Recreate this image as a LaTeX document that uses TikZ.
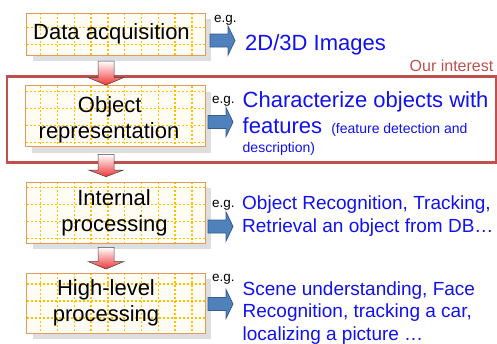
\documentclass[tikz,border=0pt]{standalone}
\usepackage{fontspec}
\setmainfont{Liberation Sans}
\definecolor{boxedge}{HTML}{E39B5B}
\definecolor{boxfill}{HTML}{FFFDF3}
\definecolor{gridyellow}{HTML}{FFC000}
\definecolor{shadowgray}{HTML}{DEDEDE}
\definecolor{focusred}{HTML}{C0504D}
\definecolor{linkblue}{HTML}{1010F0}
\definecolor{stepblue}{HTML}{4F81BD}
\definecolor{stepblueedge}{HTML}{385D8A}
\definecolor{flowred}{HTML}{F03535}
\begin{document}
\begin{tikzpicture}[x=1pt,y=-1pt,
  shadowbox/.style={fill=shadowgray},
  stagebox/.style={fill=boxfill, inner sep=0pt},
  stageedge/.style={draw=boxedge, line width=1.1pt},
  gridline/.style={gridyellow, line width=1.5pt, dash pattern=on 1.5pt off 2.5pt},
  stagetext/.style={font=\fontsize{22}{26}\selectfont, inner sep=0pt, anchor=base},
  egtext/.style={font=\fontsize{13.5}{16}\selectfont, inner sep=0pt, anchor=base west},
  bigblue/.style={font=\fontsize{22}{26}\selectfont, text=linkblue, inner sep=0pt, anchor=base west},
  midblue/.style={font=\fontsize{19}{23}\selectfont, text=linkblue, inner sep=0pt, anchor=base west},
  smallblue/.style={font=\fontsize{14}{17}\selectfont, text=linkblue, inner sep=0pt, anchor=base west},
  flowarrow/.style={draw=gray!50!black, line width=0.5pt, top color=white, bottom color=flowred},
  pointer/.style={fill=stepblue, draw=stepblueedge, line width=0.8pt, line join=miter},
]
\useasboundingbox (0,0) rectangle (497,343);

% frame around the stage of interest
\draw[focusred, line width=2.2pt] (7.3,76.5) rectangle (496,162.5);
\node[font=\fontsize{16}{19}\selectfont, text=focusred, inner sep=0pt, anchor=base east]
  (interest) at (493.5,71) {Our interest};

% stage boxes: name / left / top / right / bottom / first grid row offset
\foreach \n/\l/\t/\r/\b/\o in {s1/27/13.3/205/55/14.4, s2/26/86/205/146.7/5.5,
                                 s3/27/182.3/205/243/5.2, s4/27/273.3/205/333/10.7}{
  \fill[shadowbox] (\l+6,\t+6) rectangle (\r+6,\b+6);
  \node[stagebox, minimum width=\r-\l, minimum height=\b-\t]
    (\n) at ({(\l+\r)/2},{(\t+\b)/2}) {};
  \begin{scope}
    \clip (\n.north west) rectangle (\n.south east);
    \foreach \k in {0,...,9}
      \draw[gridline] (40.7+16.8*\k,\t) -- (40.7+16.8*\k,\b);
    \foreach \k in {0,...,3}
      \draw[gridline] (\l,\t+\o+17*\k) -- (\r,\t+\o+17*\k);
  \end{scope}
  \draw[stageedge] (\n.north west) rectangle (\n.south east);
}

% stage labels
\node[stagetext] (t1)  at (111.5,39.5) {Data acquisition};
\node[stagetext] (t2a) at (109.7,112)  {Object};
\node[stagetext] (t2b) at (109,138)    {representation};
\node[stagetext] (t3a) at (114,205)    {Internal};
\node[stagetext] (t3b) at (114.5,231)  {processing};
\node[stagetext] (t4a) at (106,295.5)  {High-level};
\node[stagetext] (t4b) at (106,321)    {processing};

% downward flow arrows between stages
\foreach \top/\base/\tip in {61/77.7/85, 154.3/170/176.7, 247.3/261.7/269}{
  \path[flowarrow] (98,\top) -- (114,\top) -- (114,\base) -- (123.5,\base)
    -- (106,\tip) -- (88.5,\base) -- (98,\base) -- cycle;
}

% pointers towards the examples
\foreach \x/\c in {210/40.5, 208/122, 208/226.5, 208/304}{
  \path[pointer] (\x,\c-6.5) -- (\x+18,\c-6.5) -- (\x+18,\c-14.5) -- (\x+25,\c)
    -- (\x+18,\c+14.5) -- (\x+18,\c+6.5) -- (\x,\c+6.5) -- cycle;
}

% "e.g." tags
\node[egtext] (eg1) at (214,22.7)  {e.g.};
\node[egtext] (eg2) at (212,103.3) {e.g.};
\node[egtext] (eg3) at (212,207.3) {e.g.};
\node[egtext] (eg4) at (212,281.7) {e.g.};

% examples
\node[bigblue] (x1) at (245,50) {2D/3D Images};
\node[bigblue] (x2a) at (242.5,107.3) {Characterize objects with};
\node[bigblue] (x2b) at (242.5,133.3) {features\hspace{3pt} {\fontsize{14}{17}\selectfont(feature detection and}};
\node[smallblue] (x2c) at (242.5,152.7) {description)};
\node[midblue] (x3a) at (242,209.3) {Object Recognition, Tracking,};
\node[midblue] (x3b) at (242,232.7) {Retrieval an object from DB…};
\node[midblue] (x4a) at (242.5,295) {Scene understanding, Face};
\node[midblue] (x4b) at (242.5,317.7) {Recognition, tracking a car,};
\node[midblue] (x4c) at (242.5,340) {localizing a picture …};
\end{tikzpicture}
\end{document}
